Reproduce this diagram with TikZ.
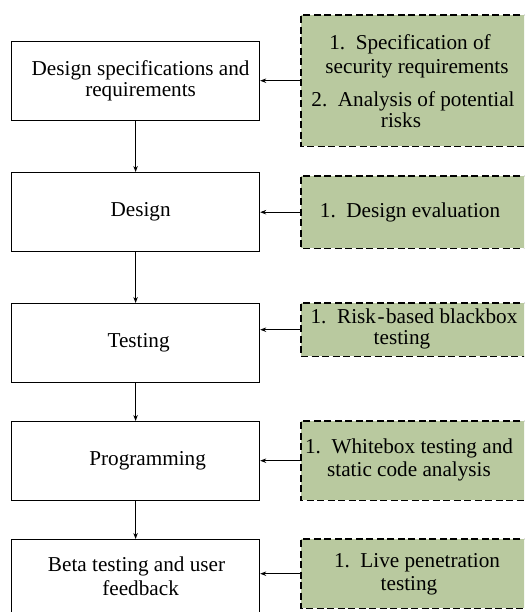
\documentclass[tikz,border=0pt]{standalone}
\usepackage{fontspec}
\setmainfont{Liberation Serif}
\usetikzlibrary{arrows.meta}
\definecolor{sage}{RGB}{185,201,159}
\begin{document}
\begin{tikzpicture}[x=1pt,y=-1pt,
  stage/.style={draw=black,line width=1.2pt,fill=white,minimum width=248pt,minimum height=79pt,anchor=north west,inner sep=0pt,align=center,font=\fontsize{21.2}{23}\selectfont},
  note/.style={draw=none,fill=sage,anchor=north west,inner sep=0pt,minimum width=240pt},
  noteedge/.style={draw=black,line width=1.1pt,dash pattern=on 7pt off 3.5pt},
  notetext/.style={align=center,font=\fontsize{21.2}{23}\selectfont},
  flow/.style={line width=0.9pt,-{Stealth[length=6pt,width=4.5pt]}}
]
\useasboundingbox (0,0) rectangle (524,612);
\clip (0,0) rectangle (524,612);
% left stages
\node[stage] (s1) at (11,41) {\hspace*{10pt}Design specifications and\\[-2pt]\hspace*{10pt}requirements};
\node[stage] (s2) at (11,172) {\hspace*{10pt}Design};
\node[stage] (s3) at (11,303) {\hspace*{6pt}Testing};
\node[stage] (s4) at (11,421) {\hspace*{24pt}Programming};
\node[stage,minimum height=74pt] (s5) at (11,539) {\hspace*{2pt}Beta testing and user\\[1pt]\hspace*{10pt}feedback};
% right notes
\node[note,minimum height=131pt] (n1) at (301,15) {};
\node[note,minimum height=72pt] (n2) at (301,176) {};
\node[note,minimum height=53pt] (n3) at (301,303) {};
\node[note,minimum height=79pt] (n4) at (301,421) {};
\node[note,minimum height=69pt] (n5) at (301,539) {};
\foreach \n in {n1,n2,n3,n4,n5}
  \draw[noteedge] (\n.north east) -- (\n.north west) -- (\n.south west) -- (\n.south east);
% note texts
\node[notetext] (t1) at (413,81) {\hspace*{-6pt}1.~~Specification of\\[1pt]\hspace*{8pt}security requirements\\[10pt]2.~~Analysis of potential\\[-2pt]\hspace*{-24pt}risks};
\node[notetext] (t2) at (410,212) {1.~~Design evaluation};
\node[notetext] (t3) at (414,329) {1.~~Risk\kern1.5pt-\kern1.5pt based blackbox\\[-2pt]\hspace*{-24pt}testing};
\node[notetext] (t4) at (409,460) {1.~~Whitebox testing and\\static code analysis};
\node[notetext] (t5) at (414,574) {\hspace*{6pt}1.~~Live penetration\\\hspace*{-10pt}testing};
% connectors
\draw[flow] (s1.south) -- (s2.north);
\draw[flow] (s2.south) -- (s3.north);
\draw[flow] (s3.south) -- (s4.north);
\draw[flow] (s4.south) -- (s5.north);
\draw[flow] (n1.west) -- (n1.west -| s1.east);
\draw[flow] (n2.west) -- (n2.west -| s2.east);
\draw[flow] (n3.west) -- (n3.west -| s3.east);
\draw[flow] (n4.west) -- (n4.west -| s4.east);
\draw[flow] (n5.west) -- (n5.west -| s5.east);
\end{tikzpicture}
\end{document}
